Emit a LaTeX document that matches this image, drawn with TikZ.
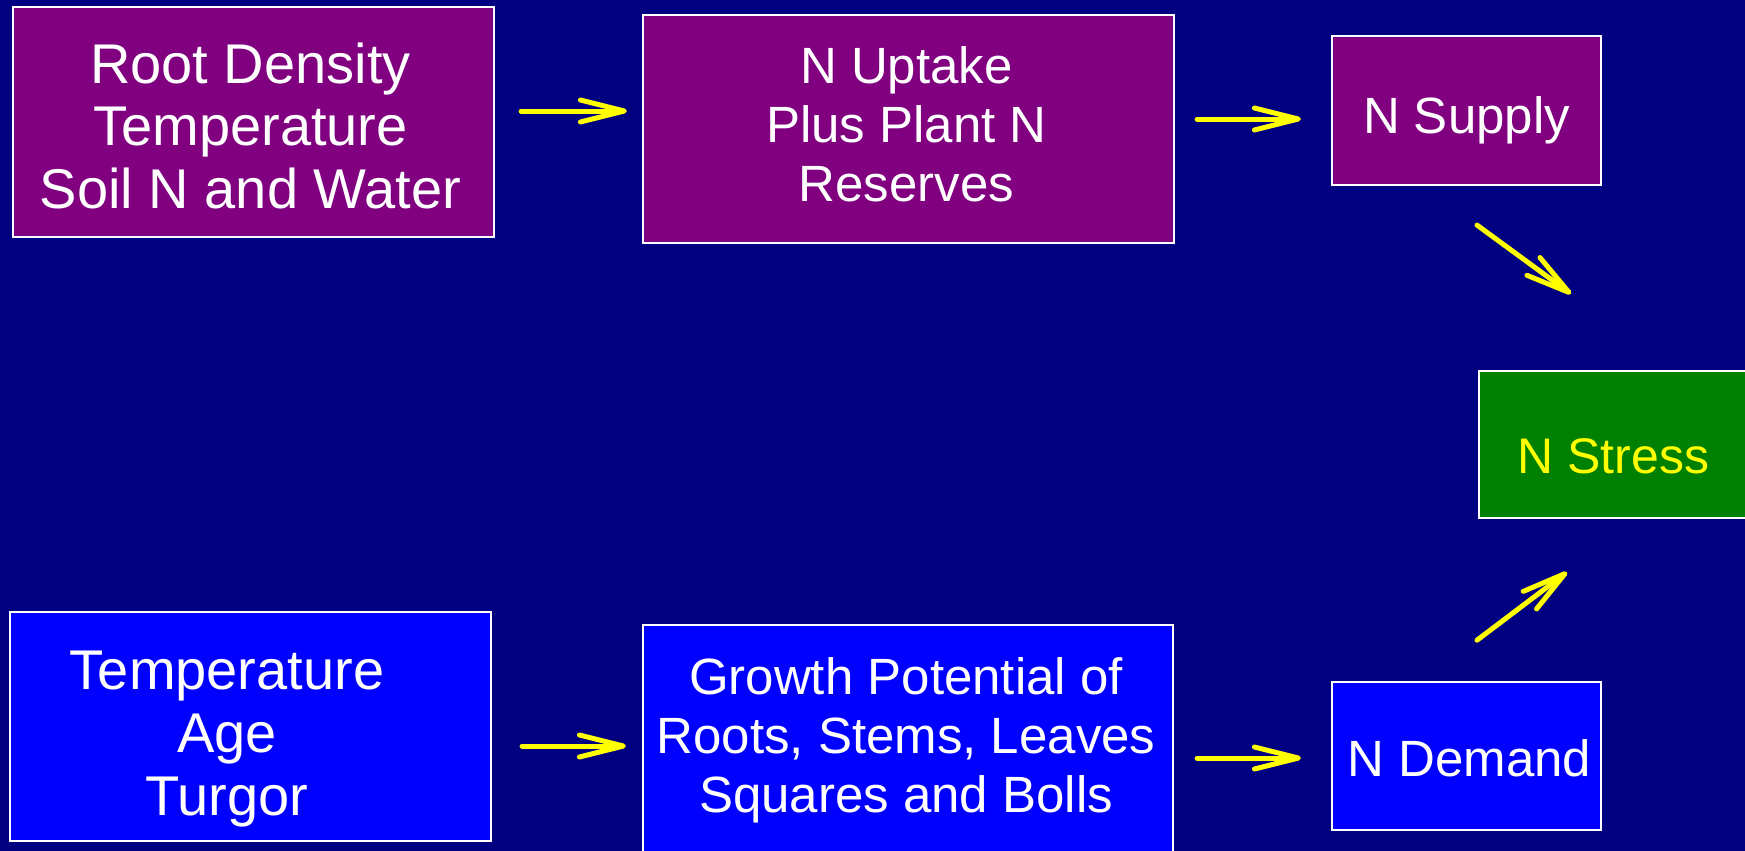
\documentclass[tikz,border=0pt]{standalone}
\usepackage{fontspec}
\setmainfont{Liberation Sans}
\usetikzlibrary{arrows.meta}
\definecolor{bgnavy}{HTML}{000080}
\definecolor{boxpurple}{HTML}{800080}
\definecolor{boxblue}{HTML}{0000FF}
\definecolor{boxgreen}{HTML}{008000}
\definecolor{arrowyellow}{HTML}{FFFF00}
\begin{document}
\begin{tikzpicture}[x=1pt,y=-1pt,
  flowbox/.style={draw=white, line width=2.2pt, inner sep=0pt, text=white, text depth=0pt},
  bigfont/.style={font=\fontsize{56}{62.5}\selectfont},
  midfont/.style={font=\fontsize{51}{59}\selectfont},
  flowarrow/.style={draw=arrowyellow, line width=5pt, line cap=round,
    -{Straight Barb[length=44pt,width=22pt,round]}}]
\fill[bgnavy] (0,0) rectangle (1745,851);
\useasboundingbox (0,0) rectangle (1745,851);

\node[flowbox, fill=boxpurple, bigfont, minimum width=481pt, minimum height=230pt, text height=172pt]
  (A) at (253.5,122) {\begin{tabular}[b]{@{}c@{\hspace{6pt}}}Root Density\\Temperature\\Soil N and Water\end{tabular}};
\node[flowbox, fill=boxpurple, midfont, minimum width=531pt, minimum height=228pt, text height=145pt]
  (B) at (908.5,129) {\begin{tabular}[b]{@{}c@{\hspace{4pt}}}N Uptake\\Plus Plant N\\Reserves\end{tabular}};
\node[flowbox, fill=boxpurple, midfont, minimum width=269pt, minimum height=149pt, text height=46pt]
  (C) at (1466.5,110.5) {N Supply};
\node[flowbox, fill=boxblue, font=\fontsize{56}{63}\selectfont, minimum width=481pt, minimum height=229pt, text height=177pt]
  (D) at (250.5,726.5) {\begin{tabular}[b]{@{}c@{\hspace{47pt}}}Temperature\\Age\\Turgor\end{tabular}};
\node[flowbox, fill=boxblue, font=\fontsize{51}{59.4}\selectfont, minimum width=530pt, minimum height=232pt, text height=143.6pt]
  (E) at (908,741) {\begin{tabular}[b]{@{}c@{\hspace{4pt}}}Growth Potential of\\Roots, Stems, Leaves\\Squares and Bolls\end{tabular}};
\node[flowbox, fill=boxblue, midfont, minimum width=269pt, minimum height=148pt, text height=40pt]
  (F) at (1466.5,756) {\hspace{6pt}N Demand};
\node[flowbox, fill=boxgreen, text=arrowyellow, font=\fontsize{50}{58}\selectfont, minimum width=269pt, minimum height=147pt, text height=58pt]
  (G) at (1613.5,444.5) {N Stress};

\draw[flowarrow] ([shift={(26,-11)}]A.east) -- ([shift={(-15,-18)}]B.west);
\draw[flowarrow] ([shift={(22,-10)}]B.east) -- ([shift={(-30,8.5)}]C.west);
\draw[flowarrow] ([shift={(30,19.5)}]D.east) -- ([shift={(-16,5)}]E.west);
\draw[flowarrow] ([shift={(23,17)}]E.east) -- ([shift={(-30,2)}]F.west);
\draw[flowarrow] ([shift={(10.5,39)}]C.south) -- ([shift={(-42.5,-76)}]G.north);
\draw[flowarrow] ([shift={(10.5,-40.7)}]F.north) -- ([shift={(-46.5,53)}]G.south);
\end{tikzpicture}
\end{document}
